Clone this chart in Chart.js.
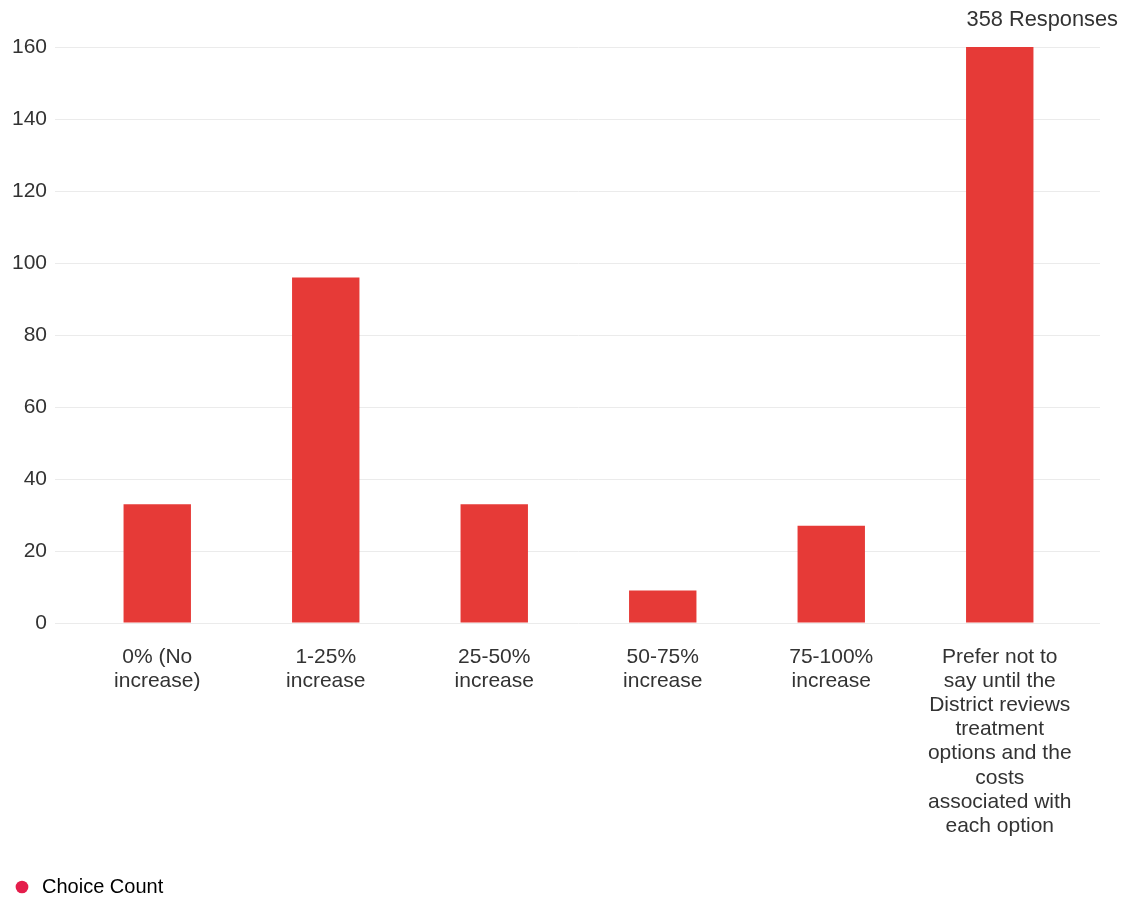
<!DOCTYPE html>
<html>
<head>
<meta charset="utf-8">
<title>Choice Count</title>
<script src="https://cdn.jsdelivr.net/npm/chart.js@4.4.1/dist/chart.umd.min.js"></script>
<style>
  body { margin: 0; background: #fff; }
  #wrap { position: relative; width: 1125px; height: 899px; overflow: hidden; }
  #responses {
    position: absolute; top: 6px; right: 7px;
    font: 21.8px "Liberation Sans", Arial, sans-serif; color: #333;
  }
</style>
</head>
<body>
<div id="wrap">
  <canvas id="choiceChart"></canvas>
  <div id="responses"></div>
</div>
<script>
// Answer options, split into the lines shown under each bar
const categories = [
  ['0% (No', 'increase)'],
  ['1-25%', 'increase'],
  ['25-50%', 'increase'],
  ['50-75%', 'increase'],
  ['75-100%', 'increase'],
  ['Prefer not to', 'say until the', 'District reviews', 'treatment',
   'options and the', 'costs', 'associated with', 'each option']
];
const choiceCounts = [33, 96, 33, 9, 27, 160];
const yTicks = [0, 20, 40, 60, 80, 100, 120, 140, 160];

const BAR_RED = '#e63a37';
const DOT_RED = '#e41d4b';
const TEXT = '#333333';
const GRID = '#ebebeb';
const FONT = '"Liberation Sans", Arial, sans-serif';

const total = choiceCounts.reduce((a, b) => a + b, 0);
document.getElementById('responses').textContent = total + ' Responses';

// carry the horizontal grid lines a little past the right edge of the plot
const gridOverhang = {
  id: 'gridOverhang',
  beforeDatasetsDraw(chart) {
    const { ctx, chartArea, scales } = chart;
    ctx.save();
    ctx.strokeStyle = GRID;
    ctx.lineWidth = 1;
    scales.y.ticks.forEach(t => {
      // same pixel snapping Chart.js uses for its grid lines
      const y = Math.round(scales.y.getPixelForValue(t.value) - 0.5) + 0.5;
      ctx.beginPath();
      ctx.moveTo(chartArea.right, y);
      ctx.lineTo(chartArea.right + 16, y);
      ctx.stroke();
    });
    ctx.restore();
  }
};

new Chart(document.getElementById('choiceChart'), {
  type: 'bar',
  data: {
    labels: categories,
    datasets: [{
      label: 'Choice Count',
      data: choiceCounts,
      backgroundColor: BAR_RED,
      borderWidth: 0,
      categoryPercentage: 1,
      barPercentage: 0.4
    }]
  },
  options: {
    responsive: true,
    maintainAspectRatio: false,
    animation: false,
    layout: { padding: { left: 9, right: 41, top: 47, bottom: -8 } },
    scales: {
      x: {
        afterFit: s => { s.height = 251; },
        grid: { display: false },
        border: { display: false },
        ticks: {
          color: TEXT,
          padding: 14,
          maxRotation: 0,
          autoSkip: false,
          font: { family: FONT, size: 21, lineHeight: 1.15 }
        }
      },
      y: {
        min: 0,
        max: 160,
        afterBuildTicks: s => { s.ticks = yTicks.map(v => ({ value: v })); },
        afterFit: s => { s.width = 64; },
        border: { display: false },
        grid: { color: GRID, drawTicks: true, tickLength: 18 },
        ticks: {
          color: TEXT,
          padding: 8,
          font: { family: FONT, size: 21 }
        }
      }
    },
    plugins: {
      title: { display: false },
      tooltip: { enabled: false },
      legend: {
        position: 'bottom',
        align: 'start',
        labels: {
          color: TEXT,
          padding: 3,
          usePointStyle: true,
          pointStyle: 'circle',
          boxWidth: 20,
          boxHeight: 9,
          font: { family: FONT, size: 20, lineHeight: 1 },
          generateLabels: chart => chart.data.datasets.map((ds, i) => ({
            text: ds.label,
            fillStyle: DOT_RED,
            strokeStyle: DOT_RED,
            lineWidth: 0,
            pointStyle: 'circle',
            datasetIndex: i,
            hidden: false
          }))
        }
      }
    }
  },
  plugins: [gridOverhang]
});
</script>
</body>
</html>
